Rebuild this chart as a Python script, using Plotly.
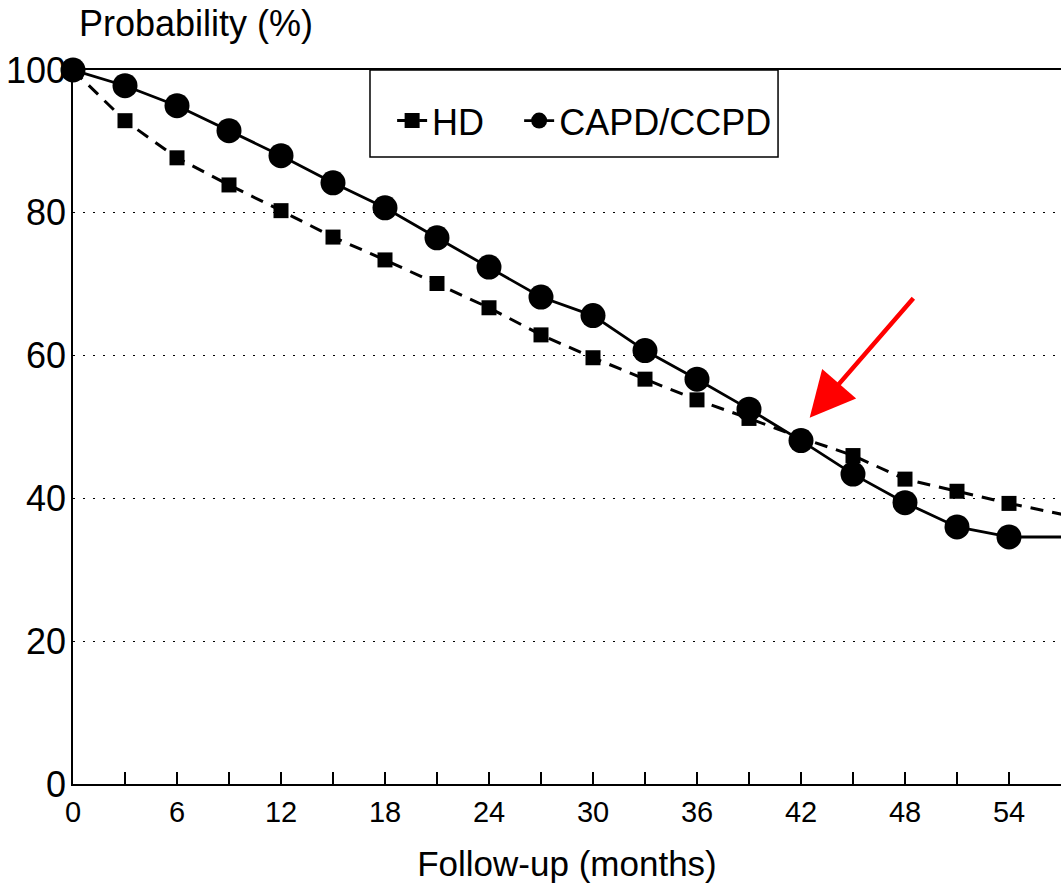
import plotly.graph_objects as go

months = [0, 3, 6, 9, 12, 15, 18, 21, 24, 27, 30, 33, 36, 39, 42, 45, 48, 51, 54]
hd = [100, 92.9, 87.7, 83.9, 80.3, 76.6, 73.4, 70.1, 66.7, 62.9, 59.7, 56.7, 53.8, 51.2, 48.5, 46.0, 42.7, 41.0, 39.3]
capd = [100, 97.8, 95.0, 91.5, 88.0, 84.2, 80.7, 76.5, 72.4, 68.2, 65.6, 60.7, 56.7, 52.5, 48.1, 43.4, 39.4, 36.0, 34.6]
# lines run on past the last marker to the right edge
tail_month = 57.6
hd_tail = 37.5
capd_tail = 34.6

x_tickvals = list(range(0, 55, 3))
x_ticktext = [str(v) if v % 6 == 0 else "" for v in x_tickvals]
y_tickvals = [0, 20, 40, 60, 80, 100]

FONT = "Liberation Sans, Arial, sans-serif"
NB = "\u00a0"

fig = go.Figure()
fig.add_trace(go.Scatter(x=[months[-1], tail_month], y=[hd[-1], hd_tail], mode="lines",
                         line=dict(color="black", width=3, dash="13px,9px"),
                         showlegend=False, hoverinfo="skip"))
fig.add_trace(go.Scatter(x=[months[-1], tail_month], y=[capd[-1], capd_tail], mode="lines",
                         line=dict(color="black", width=3),
                         showlegend=False, hoverinfo="skip"))
fig.add_trace(go.Scatter(x=months, y=hd, mode="lines+markers", name="HD" + NB * 3,
                         line=dict(color="black", width=3, dash="13px,9px"),
                         marker=dict(symbol="square", size=15, color="black"),
                         cliponaxis=False))
fig.add_trace(go.Scatter(x=months, y=capd, mode="lines+markers", name="CAPD/CCPD",
                         line=dict(color="black", width=2.8),
                         marker=dict(symbol="circle", size=25, color="black"),
                         cliponaxis=False))

# legend frame
fig.add_shape(type="rect", xref="paper", yref="paper", x0=0.3006, x1=0.7136, y0=0.878, y1=1.0,
              line=dict(color="black", width=1.5), fillcolor="white", layer="above")

fig.add_annotation(x=42.5, y=51.3, xref="x", yref="y", text="", showarrow=True,
                   ax=105, ay=-121, arrowcolor="#ff0000", arrowwidth=4.5,
                   arrowhead=2, arrowsize=2.0)

fig.add_annotation(xref="paper", yref="paper", x=0.004, y=1.0, yshift=47, xanchor="left",
                   yanchor="middle", text="Probability (%)", showarrow=False,
                   font=dict(family=FONT, size=36, color="black"))

fig.update_layout(
    width=1061, height=892,
    margin=dict(l=73, r=0, t=70, b=108, autoexpand=False),
    paper_bgcolor="white", plot_bgcolor="white",
    font=dict(family=FONT, color="black"),
    legend=dict(orientation="h", x=0.323, y=0.971, xanchor="left", yanchor="top",
                bgcolor="rgba(0,0,0,0)", borderwidth=0,
                font=dict(family=FONT, size=36, color="black"),
                itemwidth=30, tracegroupgap=0),
    xaxis=dict(range=[0, 57], tickvals=x_tickvals, ticktext=x_ticktext, automargin=False,
               ticks="inside", ticklen=12, tickwidth=1.5, tickcolor="black",
               showline=True, linecolor="black", linewidth=1.5, mirror=True,
               showgrid=False, zeroline=False,
               tickfont=dict(family=FONT, size=29, color="black"),
               ticklabelstandoff=1,
               title=dict(text="Follow-up (months)", standoff=25,
                          font=dict(family=FONT, size=35, color="black"))),
    yaxis=dict(range=[0, 100], tickvals=y_tickvals, ticks="", automargin=False,
               showline=True, linecolor="black", linewidth=1.5,
               showgrid=True, gridcolor="black", gridwidth=1.2, griddash="2px,8px",
               zeroline=False,
               tickfont=dict(family=FONT, size=36, color="black"),
               ticklabelstandoff=-2),
)

fig.write_html("out.html", config={"displayModeBar": False},
               post_script="document.body.style.margin='0';document.body.style.overflow='hidden';")
